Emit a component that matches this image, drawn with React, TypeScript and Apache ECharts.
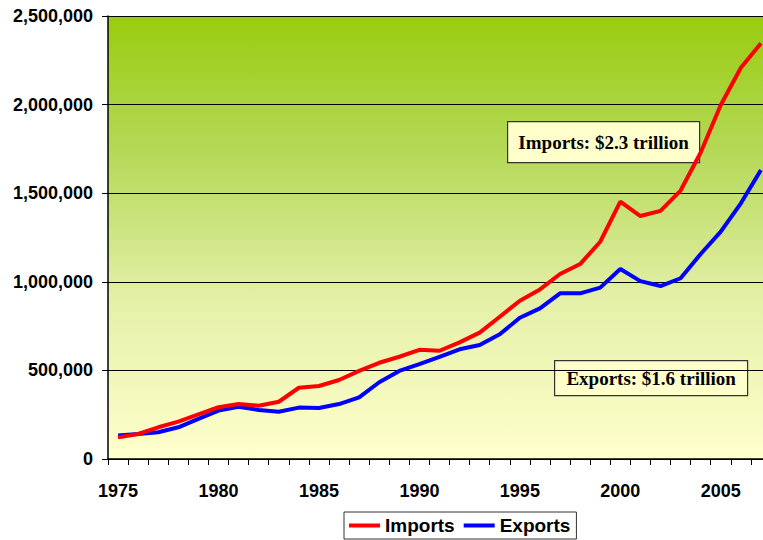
import React, { useEffect, useRef } from "react";
import * as echarts from "echarts";

const years: string[] = [];
for (let y = 1975; y <= 2007; y++) years.push(String(y));

const imports = [
  122000, 141000, 179000, 211000, 252000, 292000, 310000, 301000, 323000, 402000,
  412000, 446000, 497000, 543000, 577000, 616000, 611000, 658000, 713000, 803000,
  893000, 957000, 1044000, 1100000, 1226000, 1452000, 1371000, 1400000, 1515000,
  1730000, 1998000, 2208000, 2346000,
];

const exportsData = [
  132000, 141000, 151000, 179000, 226000, 273000, 295000, 277000, 267000, 290000,
  288000, 310000, 348000, 433000, 497000, 535000, 577000, 619000, 643000, 704000,
  797000, 850000, 935000, 935000, 967000, 1072000, 1004000, 976000, 1020000,
  1157000, 1283000, 1443000, 1631000,
];

const yTicks = { min: 0, max: 2500000, interval: 500000 };

const importsNote = "Imports: $2.3 trillion";
const exportsNote = "Exports: $1.6 trillion";

export default function App() {
  const ref = useRef<HTMLDivElement>(null);
  useEffect(() => {
    if (!ref.current) return;
    const chart = echarts.init(ref.current, undefined, { renderer: "svg" });
    const sans = "'Liberation Sans', Arial, sans-serif";
    const serif = "'Liberation Serif', 'Times New Roman', serif";
    const box = (x: number, y: number, w: number, h: number, text: string) => ({
      type: "group",
      left: x,
      top: y,
      z: 100,
      children: [
        {
          type: "rect",
          shape: { x: 0, y: 0, width: w, height: h },
          style: { fill: "#FFFFCC", stroke: "#333333", lineWidth: 1.2 },
        },
        {
          type: "text",
          x: w / 2,
          y: h / 2,
          style: {
            text,
            fill: "#000",
            font: `bold 19px ${serif}`,
            align: "center",
            verticalAlign: "middle",
          },
        },
      ],
    });
    chart.setOption({
      animation: false,
      backgroundColor: "#ffffff",
      grid: {
        left: 108,
        right: 0,
        top: 16,
        bottom: 81,
        show: true,
        borderWidth: 0,
        backgroundColor: new echarts.graphic.LinearGradient(0, 0, 0, 1, [
          { offset: 0, color: "#99CC0F" },
          { offset: 0.3, color: "#B4D856" },
          { offset: 0.64, color: "#E4F0A8" },
          { offset: 1, color: "#FFFFCC" },
        ]),
      },
      legend: {
        data: ["Imports", "Exports"],
        left: 344,
        top: 512,
        padding: [4, 6, 4, 5],
        itemGap: 9,
        itemWidth: 31,
        itemHeight: 4,
        icon: "rect",
        borderColor: "#333333",
        borderWidth: 1,
        backgroundColor: "#ffffff",
        textStyle: { fontFamily: sans, fontWeight: "bold", fontSize: 19, color: "#000" },
      },
      xAxis: {
        type: "category",
        data: years,
        boundaryGap: true,
        axisLine: { show: true, lineStyle: { color: "#000", width: 1.5 } },
        axisTick: { show: true, interval: 0, length: 6, lineStyle: { color: "#000" } },
        axisLabel: {
          interval: 4,
          margin: 23,
          fontFamily: sans,
          fontWeight: "bold",
          fontSize: 18,
          color: "#000",
        },
        splitLine: { show: false },
      },
      yAxis: {
        type: "value",
        min: yTicks.min,
        max: yTicks.max,
        interval: yTicks.interval,
        axisLine: { show: true, lineStyle: { color: "#000", width: 1.5 } },
        axisTick: { show: true, length: 6, lineStyle: { color: "#000" } },
        axisLabel: {
          margin: 15,
          fontFamily: sans,
          fontWeight: "bold",
          fontSize: 18,
          color: "#000",
          formatter: (v: number) => v.toLocaleString("en-US"),
        },
        splitLine: { show: true, lineStyle: { color: "#000", width: 1 } },
      },
      series: [
        {
          name: "Exports",
          type: "line",
          data: exportsData,
          symbol: "none",
          itemStyle: { color: "#0000FF" },
          lineStyle: { color: "#0000FF", width: 4 },
          z: 3,
        },
        {
          name: "Imports",
          type: "line",
          data: imports,
          symbol: "none",
          itemStyle: { color: "#FF0000" },
          lineStyle: { color: "#FF0000", width: 4 },
          z: 4,
        },
      ],
      graphic: [box(507, 121, 192, 41, importsNote), box(554, 360, 193, 35, exportsNote)],
    });
    return () => chart.dispose();
  }, []);
  return (
    <div
      style={{
        position: "fixed",
        left: 0,
        top: 0,
        width: 763,
        height: 540,
        overflow: "hidden",
        background: "#fff",
      }}
    >
      <div ref={ref} style={{ width: 771, height: 540 }} />
    </div>
  );
}
